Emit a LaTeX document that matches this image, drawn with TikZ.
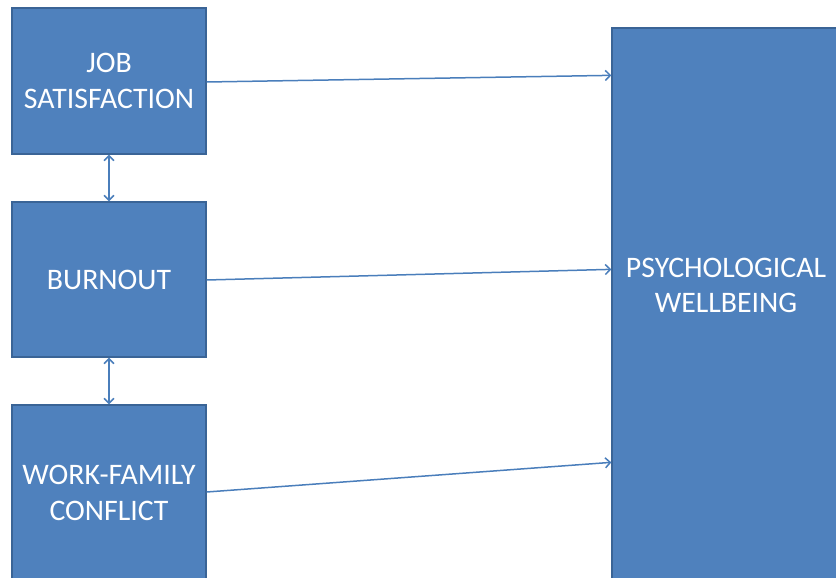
\documentclass[tikz,border=0pt]{standalone}
\usepackage{fontspec}
\setmainfont{Carlito}
\usetikzlibrary{arrows.meta,calc}
\definecolor{boxfill}{HTML}{4F81BD}
\definecolor{boxline}{HTML}{3A6496}
\definecolor{arrcol}{HTML}{4A7EBB}
\begin{document}
\begin{tikzpicture}[x=1pt,y=-1pt,
  blk/.style={draw=boxline,fill=boxfill,line width=1.3pt,rectangle,inner sep=0pt,
    text=white,align=center,font=\fontsize{29.8}{36}\selectfont},
  lbl/.style={text=white,align=center,inner sep=0pt,font=\fontsize{29.8}{35}\selectfont},
  arr/.style={draw=arrcol,line width=1.5pt,-{Straight Barb[length=5pt,width=10pt,line width=1.5pt]}},
  darr/.style={draw=arrcol,line width=1.5pt,{Straight Barb[length=5pt,width=10pt,line width=1.5pt]}-{Straight Barb[length=5pt,width=10pt,line width=1.5pt]}}]
\useasboundingbox (0,0) rectangle (836,578);
\clip (0,0) rectangle (836,578);
\node[blk,minimum width=194pt,minimum height=146pt] (js) at (109,81) {JOB\\SATISFACTION};
\node[blk,minimum width=194pt,minimum height=155pt] (bu) at (109,279.5) {BURNOUT};
\node[blk,minimum width=194pt,minimum height=176pt] (wf) at (109,493) {WORK-FAMILY\\CONFLICT};
\node[blk,minimum width=228pt,minimum height=580pt] (pw) at (726,318) {};
\node[lbl] (pwt) at (726,285) {PSYCHOLOGICAL\\WELLBEING};
\draw[arr] ($(js.east)+(0,1)$) -- ($(pw.north west)+(0,48)$);
\draw[arr] ($(bu.east)+(0,0.5)$) -- ($(pw.north west)+(0,242)$);
\draw[arr] ($(wf.east)+(0,-1)$) -- ($(pw.north west)+(0,435)$);
\draw[darr] (js.south) -- (bu.north);
\draw[darr] (bu.south) -- (wf.north);
\end{tikzpicture}
\end{document}
